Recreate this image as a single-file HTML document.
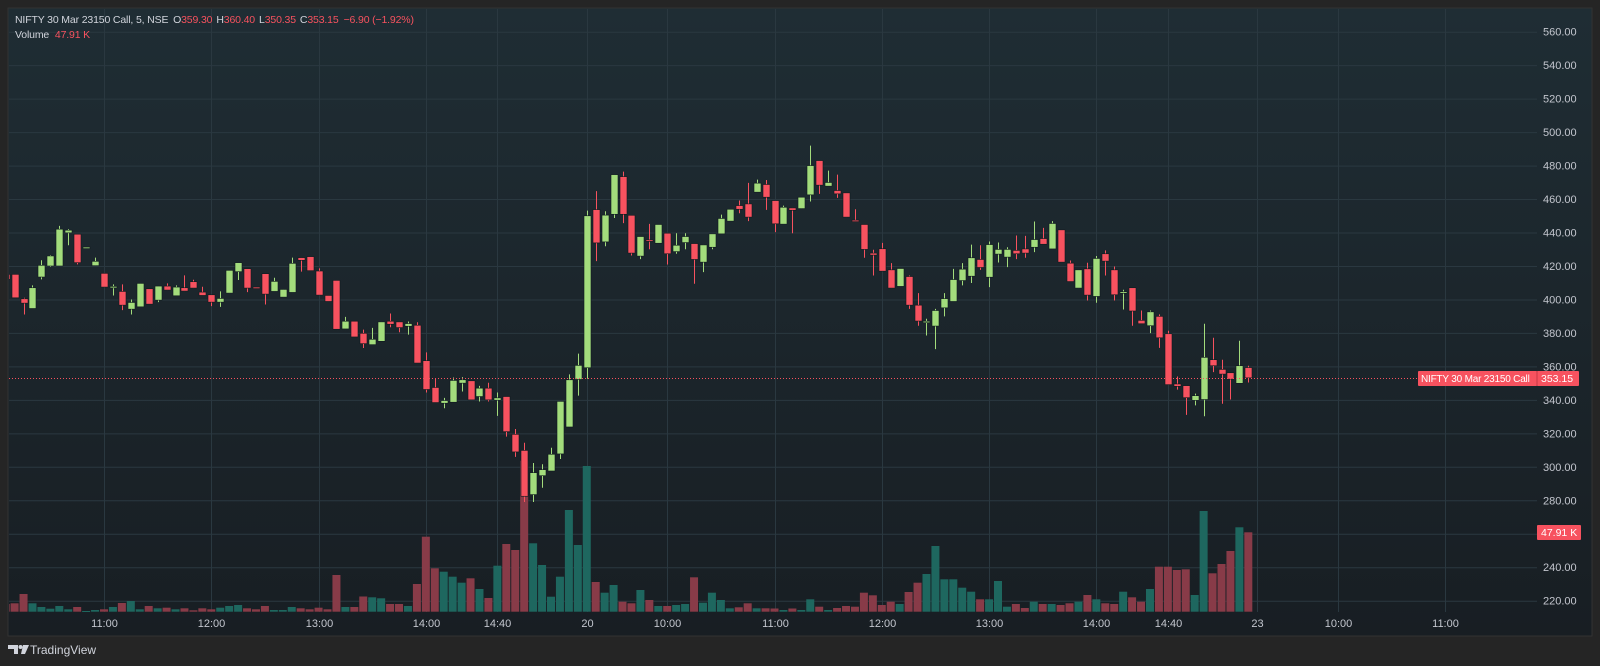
<!DOCTYPE html>
<html><head><meta charset="utf-8"><style>
html,body{margin:0;padding:0;background:#252525;width:1600px;height:666px;overflow:hidden;font-family:"Liberation Sans",sans-serif}
svg{position:absolute;left:0;top:0}
</style></head><body>
<svg id="s" width="1600" height="666" xmlns="http://www.w3.org/2000/svg">
<defs>
<linearGradient id="bg" x1="0" y1="0" x2="0" y2="1"><stop offset="0" stop-color="#1f2d34"/><stop offset="1" stop-color="#181e23"/></linearGradient>
<clipPath id="cp"><rect x="9" y="9" width="1528" height="603"/></clipPath>
</defs>
<rect x="0" y="0" width="1600" height="666" fill="#252525"/>
<rect x="8" y="8" width="1584" height="628" fill="url(#bg)" stroke="#323232" stroke-width="1"/>
<g id="grid" stroke="#2a3840" stroke-width="1"></g>
<g id="vol" clip-path="url(#cp)"></g>
<g id="cnd" clip-path="url(#cp)"></g>
<line x1="9" y1="378.5" x2="1418" y2="378.5" stroke="#f7525f" stroke-width="1" stroke-dasharray="1,2"/>
<g font-size="11" fill="#c3c6ce" id="paxis"></g>
<g font-size="11" fill="#c3c6ce" text-anchor="middle" id="taxis"></g>
<rect x="1418" y="371" width="119" height="15" fill="#f7525f" rx="1"/>
<text x="1421" y="382" font-size="10" letter-spacing="-0.2" fill="#fff">NIFTY 30 Mar 23150 Call</text>
<rect x="1537" y="371" width="42" height="15" fill="#f7525f" rx="1"/>
<line x1="1537" y1="371" x2="1537" y2="386" stroke="#c43a46"/>
<text x="1541" y="382" font-size="10.5" fill="#fff">353.15</text>
<rect x="1537" y="525" width="44" height="15" fill="#f7525f" rx="1"/>
<text x="1541" y="536" font-size="10.5" fill="#fff">47.91 K</text>
<text x="15" y="23" font-size="10.5" letter-spacing="-0.15" fill="#d1d4dc">NIFTY 30 Mar 23150 Call, 5, NSE <tspan dx="2">O</tspan><tspan fill="#f7525f">359.30</tspan><tspan dx="4">H</tspan><tspan fill="#f7525f">360.40</tspan><tspan dx="4">L</tspan><tspan fill="#f7525f">350.35</tspan><tspan dx="4">C</tspan><tspan fill="#f7525f">353.15</tspan><tspan dx="5" fill="#f7525f">−6.90 (−1.92%)</tspan></text>
<text x="15" y="38" font-size="10.5" letter-spacing="-0.15" fill="#d1d4dc">Volume <tspan dx="3" fill="#f7525f">47.91 K</tspan></text>
<g fill="#d1d4dc"><path d="M8 645h10v9h-4v-5h-6z"/><circle cx="20.5" cy="647" r="2"/><path d="M23 645h6l-4 9h-4z"/></g>
<text x="30" y="654" font-size="12" fill="#d1d4dc">TradingView</text>
</svg>
<script>
var NS="http://www.w3.org/2000/svg";
function Y(p){return 31.7+(560-p)*1.6735;}
function X(k){return 104+k*8.94;}
function el(g,t,a){var e=document.createElementNS(NS,t);for(var n in a)e.setAttribute(n,a[n]);document.getElementById(g).appendChild(e);return e;}
for(var p=220;p<=560;p+=20){var y=Y(p);el("grid","line",{x1:9,y1:y+.5,x2:1537,y2:y+.5});var t=el("paxis","text",{x:1543,y:y+4});t.textContent=p.toFixed(2);}
var tl=[[0,"11:00"],[12,"12:00"],[24,"13:00"],[36,"14:00"],[44,"14:40"],[54,"20"],[63,"10:00"],[75,"11:00"],[87,"12:00"],[99,"13:00"],[111,"14:00"],[119,"14:40"],[129,"23"],[138,"10:00"],[150,"11:00"]];
tl.forEach(function(a){var x=Math.round(X(a[0]))+.5;el("grid","line",{x1:x,y1:9,x2:x,y2:612});var t=el("taxis","text",{x:x,y:627});t.textContent=a[1];});
var D="415,416,411,412,604|415,415,401,401,603.3|400.4,401,391,397.8,594|394.6,408.4,394.6,407,603.3|413.4,423.4,412,420.4,607|420,426.5,419.5,426,608.7|420,444,420,442,606|439.8,442,432.4,441.4,609.3|439,439,421,422,607|431,431,431,431.3,611|420.2,425,420,422.8,610|415.6,415.6,407.4,407.4,609.3|407.6,409,402.4,407.8,607|404.8,409,393.6,396.6,603|394.2,400,391,398.2,601|395.6,409.6,395.6,409.6,609.3|406.4,406.4,397.2,397.2,606|399.6,408,398.4,408,608.3|408,409.6,405.6,405.6,607.7|402.2,408.4,402.2,407.4,609.3|407,414.4,405,405,608.3|410.6,411.8,406.8,406.8,610.3|404.4,407.6,402.4,402.4,608.3|402.8,402.8,396,398.4,609.3|398.4,404.8,395.6,400.6,607.7|403.8,417.4,403.8,417.4,606|416.6,422,411.6,422,605|418.4,418.4,404.4,406.8,608.3|407.4,407.4,406.6,406.6,609.3|415.4,415.4,397,403.2,606|404.8,413,404.8,410.8,610|401.4,406,401.4,406,610|404.2,425,404.2,421.6,607|425,425,416.6,423.4,608.3|425.6,425.6,417.2,417.2,609.3|417,418.6,402.6,402.6,607.7|402.4,402.4,398.8,398.8,609.3|411.4,411.4,382.2,382.2,575|382.4,389.6,382.4,387,607|387,387,377.6,377.6,607|379.8,382,371,373.6,596.5|373,383,373,376.2,597.3|375,386.6,375,386.6,598.3|387,391.6,383.4,385.2,604|386.6,386.6,380.4,383.2,604|384,386.8,379,385.6,606|384.6,386.4,362,362,584|363.4,368.4,344.4,346.2,536.7|347.4,353,338.4,338.4,568.3|338,341.2,335,339.6,571.7|338.6,353.4,338.6,351.6,576.7|350,353.6,345,352,582.7|351.4,351.4,340,340,578.3|342,348.4,339,347,589|347,350.2,339,340,598|339.8,344.4,330.4,341.2,565.7|342,342,318,321,544|319.4,322.6,305.9,308.9,550|309.8,314.4,279,282.4,460.7|283.4,302.3,279,296.5,543.3|294.7,301.5,287.5,298.3,565|297.5,311.4,297.5,307.5,596.7|307.7,339.1,304.7,339.1,576.7|323.8,355.2,323.8,352,510|352.2,367.6,342.5,360.6,545|359.2,453.1,352.6,450,466|453.7,464.7,422.9,433.8,582|434.4,452.7,431.8,450.4,592.7|450.9,474.6,448.7,474.6,585|473.4,476.4,445.6,450.9,601.7|450.3,450.3,426.3,427.7,603.3|425.9,437.6,424.1,437.6,590|435.6,445.2,430,435.4,600|433.6,444.8,433.6,444.8,606|439.6,439.6,420.9,427.3,606|428.6,439.6,427.3,432.4,605|434,439.6,430,437.6,604|433.4,433.4,409.4,423.9,577.3|422.3,432.6,416.3,432.6,602.7|431.2,439.2,430,439.2,592.7|439.2,450.7,439.2,448.4,600|446.8,453.9,446.8,453.9,608.3|456.1,459.1,451.5,453.9,607.3|457.1,469.7,446.8,449.2,603.3|464.1,471.6,464.1,469.5,608.3|468.7,471.4,453.5,461.1,608.3|459.1,459.1,440.2,445.2,608.5|445,456.1,445,455.1,610|454.7,454.7,439.6,453.3,608.5|454.3,461.1,454.3,461.1,610|462.5,491.9,458.5,480,599.3|483,483,463.1,468.3,606.7|467.7,477,467.7,469.9,610|465.1,474.6,460.7,463.1,608|463.7,463.7,449.2,449.2,606|447.4,453.9,447,447,606.7|444.8,444.8,424.9,429.9,592.7|427.7,429.7,414.3,426.5,595.3|430.3,433.8,416.9,416.9,605|417.7,421.7,406.8,406.8,601.7|407.8,418.5,407.8,418.5,604|413.7,414.3,394.4,396.6,592|396.6,403.8,384.3,387.1,582.7|386.2,388.5,378.5,387,574|384.1,394.4,370.3,393.4,546|395,403.8,389.9,400.5,579.3|398.8,418.3,398.8,411.9,579.3|411.3,421.7,408.4,418.1,587.7|413.9,432.8,409.8,424.9,591.7|423.9,432.4,417.7,419.1,599.3|413.3,434.6,407.4,432.8,599.3|427.1,434,422.1,429.9,581|425.3,431.2,419.3,429.9,606.7|429.3,438.2,424.1,427.3,604|430.2,438,424.9,427.7,608|431.2,446.6,428.3,435.8,601.7|436.4,442.8,433,433,604|430.2,446.8,430.2,445.4,604|441.6,441.6,422.3,422.3,605|421.7,423.3,410.7,410.7,603.3|406.8,417.7,406.8,417.7,601.7|418.3,421.9,399.4,402.6,595|401.8,426,398,424.5,599.3|427.3,429.3,414.3,422.9,603.3|417.7,419.7,399.4,402.8,604|404.4,405.8,394,404.6,591.7|407,407,384.3,393.1,597.3|387.5,393.4,385.5,385.5,601.7|384.3,393.4,379.9,392.6,589|389.9,391.1,371.1,377.1,566.7|379.5,381.3,349.1,349.1,566.7|349.5,354,346.1,348.1,570|348.5,348.5,331,341.3,569.3|339.7,343.7,336.7,342.5,595|340.2,385.5,330.2,365.4,511|364,377.1,356.6,360.4,573.3|358.2,364,337.7,355.4,564|356.2,356.2,340.2,352.4,551|349.9,375.3,349.9,360.4,527.3|359.3,360.4,350.35,353.15,532.3";
D.split("|").forEach(function(r,i){var a=r.split(",").map(Number),k=i-11,x=X(k),o=a[0],h=a[1],l=a[2],c=a[3],v=a[4];
var up=c>=o,col=up?"#a3dc7c":"#f7525f",vc=up?"#1e675f":"#883b48";
el("vol","rect",{x:x-4,y:v,width:8,height:Math.max(611.7-v,1),fill:vc});
var cx=Math.round(x)+.5;el("cnd","line",{x1:cx,y1:Y(h),x2:cx,y2:Y(l),stroke:col,"stroke-width":1});
var t=Y(Math.max(o,c)),b=Y(Math.min(o,c));el("cnd","rect",{x:Math.round(x)-3,y:t,width:7,height:Math.max(b-t,1.5),fill:col,stroke:"#0f1a1e","stroke-width":0.6});});
</script>
</body></html>
